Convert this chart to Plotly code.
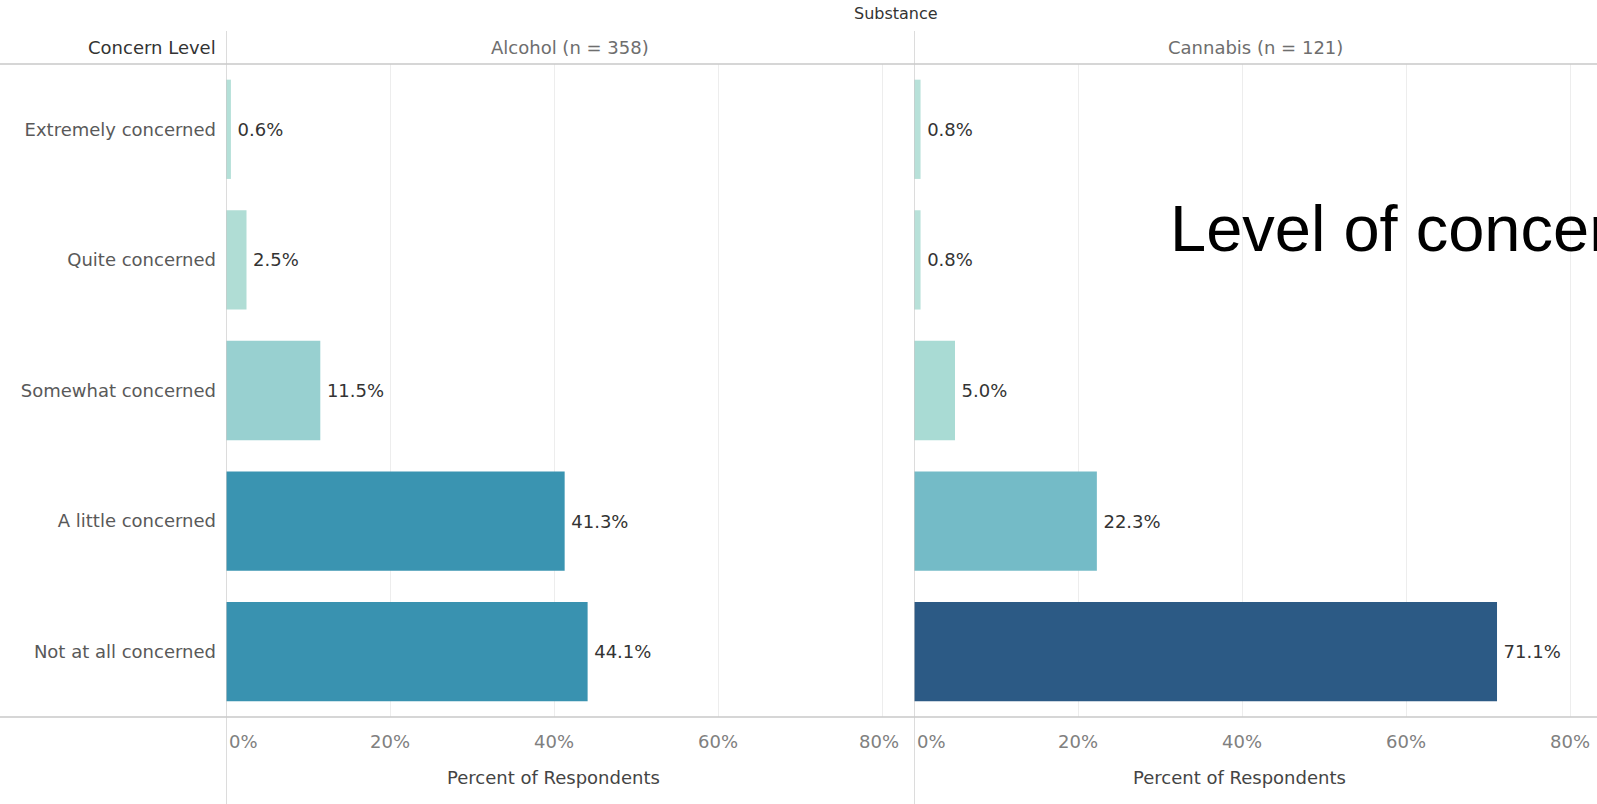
import plotly.graph_objects as go

# ---------------- data ----------------
categories = ["Extremely concerned", "Quite concerned", "Somewhat concerned",
              "A little concerned", "Not at all concerned"]
alcohol_pct = [0.6, 2.5, 11.5, 41.3, 44.1]
cannabis_pct = [0.8, 0.8, 5.0, 22.3, 71.1]
panel_titles = ["Alcohol (n = 358)", "Cannabis (n = 121)"]
tick_values = [0, 20, 40, 60, 80]
tick_labels = ["0%", "20%", "40%", "60%", "80%"]

# ---------------- styles ----------------
alcohol_colors = ["#b4e0d8", "#b0ddd5", "#98d0d0", "#3a94b1", "#3992b0"]
cannabis_colors = ["#b8e1d9", "#b8e1d9", "#a9dbd4", "#74bbc7", "#2c5a85"]
FONT = "DejaVu Sans, Liberation Sans, sans-serif"
FS = 18
LINE = "#c9c9c9"

W, H = 1597, 804
x_left0, x_div, x_right1 = 226, 914, 1597
y_top, y_bot = 64, 717
px_per_pct = 8.2

dom1 = [x_left0 / W, x_div / W]
dom2 = [x_div / W, 1.0]
ydom = [(H - y_bot) / H, (H - y_top) / H]
rng1 = [0, (x_div - x_left0) / px_per_pct]
rng2 = [0, (x_right1 - x_div) / px_per_pct]

fig = go.Figure()
for vals, cols, xa, ya in [(alcohol_pct, alcohol_colors, "x", "y"),
                           (cannabis_pct, cannabis_colors, "x2", "y2")]:
    fig.add_trace(go.Bar(
        x=vals, y=categories, orientation="h", xaxis=xa, yaxis=ya,
        marker=dict(color=cols, line=dict(width=0)),
        width=0.76,
        text=[f"\u2009{v:.1f}%" for v in vals], textposition="outside",
        outsidetextfont=dict(family=FONT, size=FS, color="#333333"),
        constraintext="none", cliponaxis=False, hoverinfo="skip",
        showlegend=False,
    ))

axis_common = dict(showline=False, zeroline=False, showgrid=True,
                   gridcolor="#ededed", gridwidth=1, tickvals=tick_values[1:],
                   showticklabels=False, ticks="", fixedrange=True)
fig.update_layout(
    width=W, height=H,
    margin=dict(l=0, r=0, t=0, b=0),
    paper_bgcolor="white", plot_bgcolor="white",
    font=dict(family=FONT, size=FS, color="#555555"),
    bargap=0.24,
    xaxis=dict(domain=dom1, range=rng1, anchor="y", **axis_common),
    xaxis2=dict(domain=dom2, range=rng2, anchor="y2", **axis_common),
    yaxis=dict(domain=ydom, anchor="x", categoryorder="array",
               categoryarray=categories, autorange="reversed",
               showgrid=False, zeroline=False, showline=False, ticks="",
               ticklabelstandoff=9,
               tickfont=dict(family=FONT, size=FS, color="#595959")),
    yaxis2=dict(domain=ydom, anchor="x2", matches="y", showticklabels=False,
                showgrid=False, zeroline=False, showline=False, ticks=""),
)

shapes = []
# horizontal rules (header bottom and axis line)
for yy in (y_top, y_bot):
    shapes.append(dict(type="line", xref="paper", yref="paper", x0=0, x1=1,
                       y0=(H - yy) / H, y1=(H - yy) / H,
                       line=dict(color=LINE, width=1.3)))
# vertical rules at 0% of each panel
for xr in ("x", "x2"):
    shapes.append(dict(type="line", xref=xr, yref="paper", x0=0, x1=0,
                       y0=0, y1=(H - 31) / H, line=dict(color=LINE, width=1.3)))
fig.update_layout(shapes=shapes)

ann = []
# header texts
ann.append(dict(text="Substance", xref="paper", yref="paper", x=896 / W,
                y=(H - 14) / H, showarrow=False, xanchor="center",
                yanchor="middle", font=dict(size=FS - 2, color="#333333")))
ann.append(dict(text="Concern Level", xref="paper", yref="paper",
                x=(x_left0 - 8) / W, y=(H - 48) / H, showarrow=False,
                xanchor="right", yanchor="middle",
                font=dict(size=FS, color="#333333")))
for t, xr, r in [(panel_titles[0], "x", rng1), (panel_titles[1], "x2", rng2)]:
    ann.append(dict(text=t, xref=xr, yref="paper", x=(r[0] + r[1]) / 2,
                    y=(H - 48) / H, showarrow=False, xanchor="center",
                    yanchor="middle", font=dict(size=FS, color="#6e6e6e")))
# x tick labels and axis titles
for xr, r in [("x", rng1), ("x2", rng2)]:
    for v, lab in zip(tick_values, tick_labels):
        ann.append(dict(text=lab, xref=xr, yref="paper", x=v,
                        y=(H - 741) / H, showarrow=False,
                        xanchor="left" if v == 0 else "center",
                        xshift=1 if v == 0 else (-3 if (xr == "x" and v == 80) else 0),
                        yanchor="middle", font=dict(size=FS, color="#808080")))
    ann.append(dict(text="Percent of Respondents", xref=xr, yref="paper",
                    x=(r[0] + r[1]) / 2 - 2, y=(H - 777) / H, showarrow=False,
                    xanchor="center", yanchor="middle",
                    font=dict(size=FS, color="#444444")))
# overlay slide title (cut at the right edge, as in the source slide)
ann.append(dict(text="Level of concern", xref="paper", yref="paper",
                x=1168 / W, y=(H - 229) / H, showarrow=False, xanchor="left",
                yanchor="middle",
                font=dict(family="Liberation Sans, Arial, sans-serif",
                          size=65, color="#000000")))
fig.update_layout(annotations=ann)

fig.write_html("out.html")
